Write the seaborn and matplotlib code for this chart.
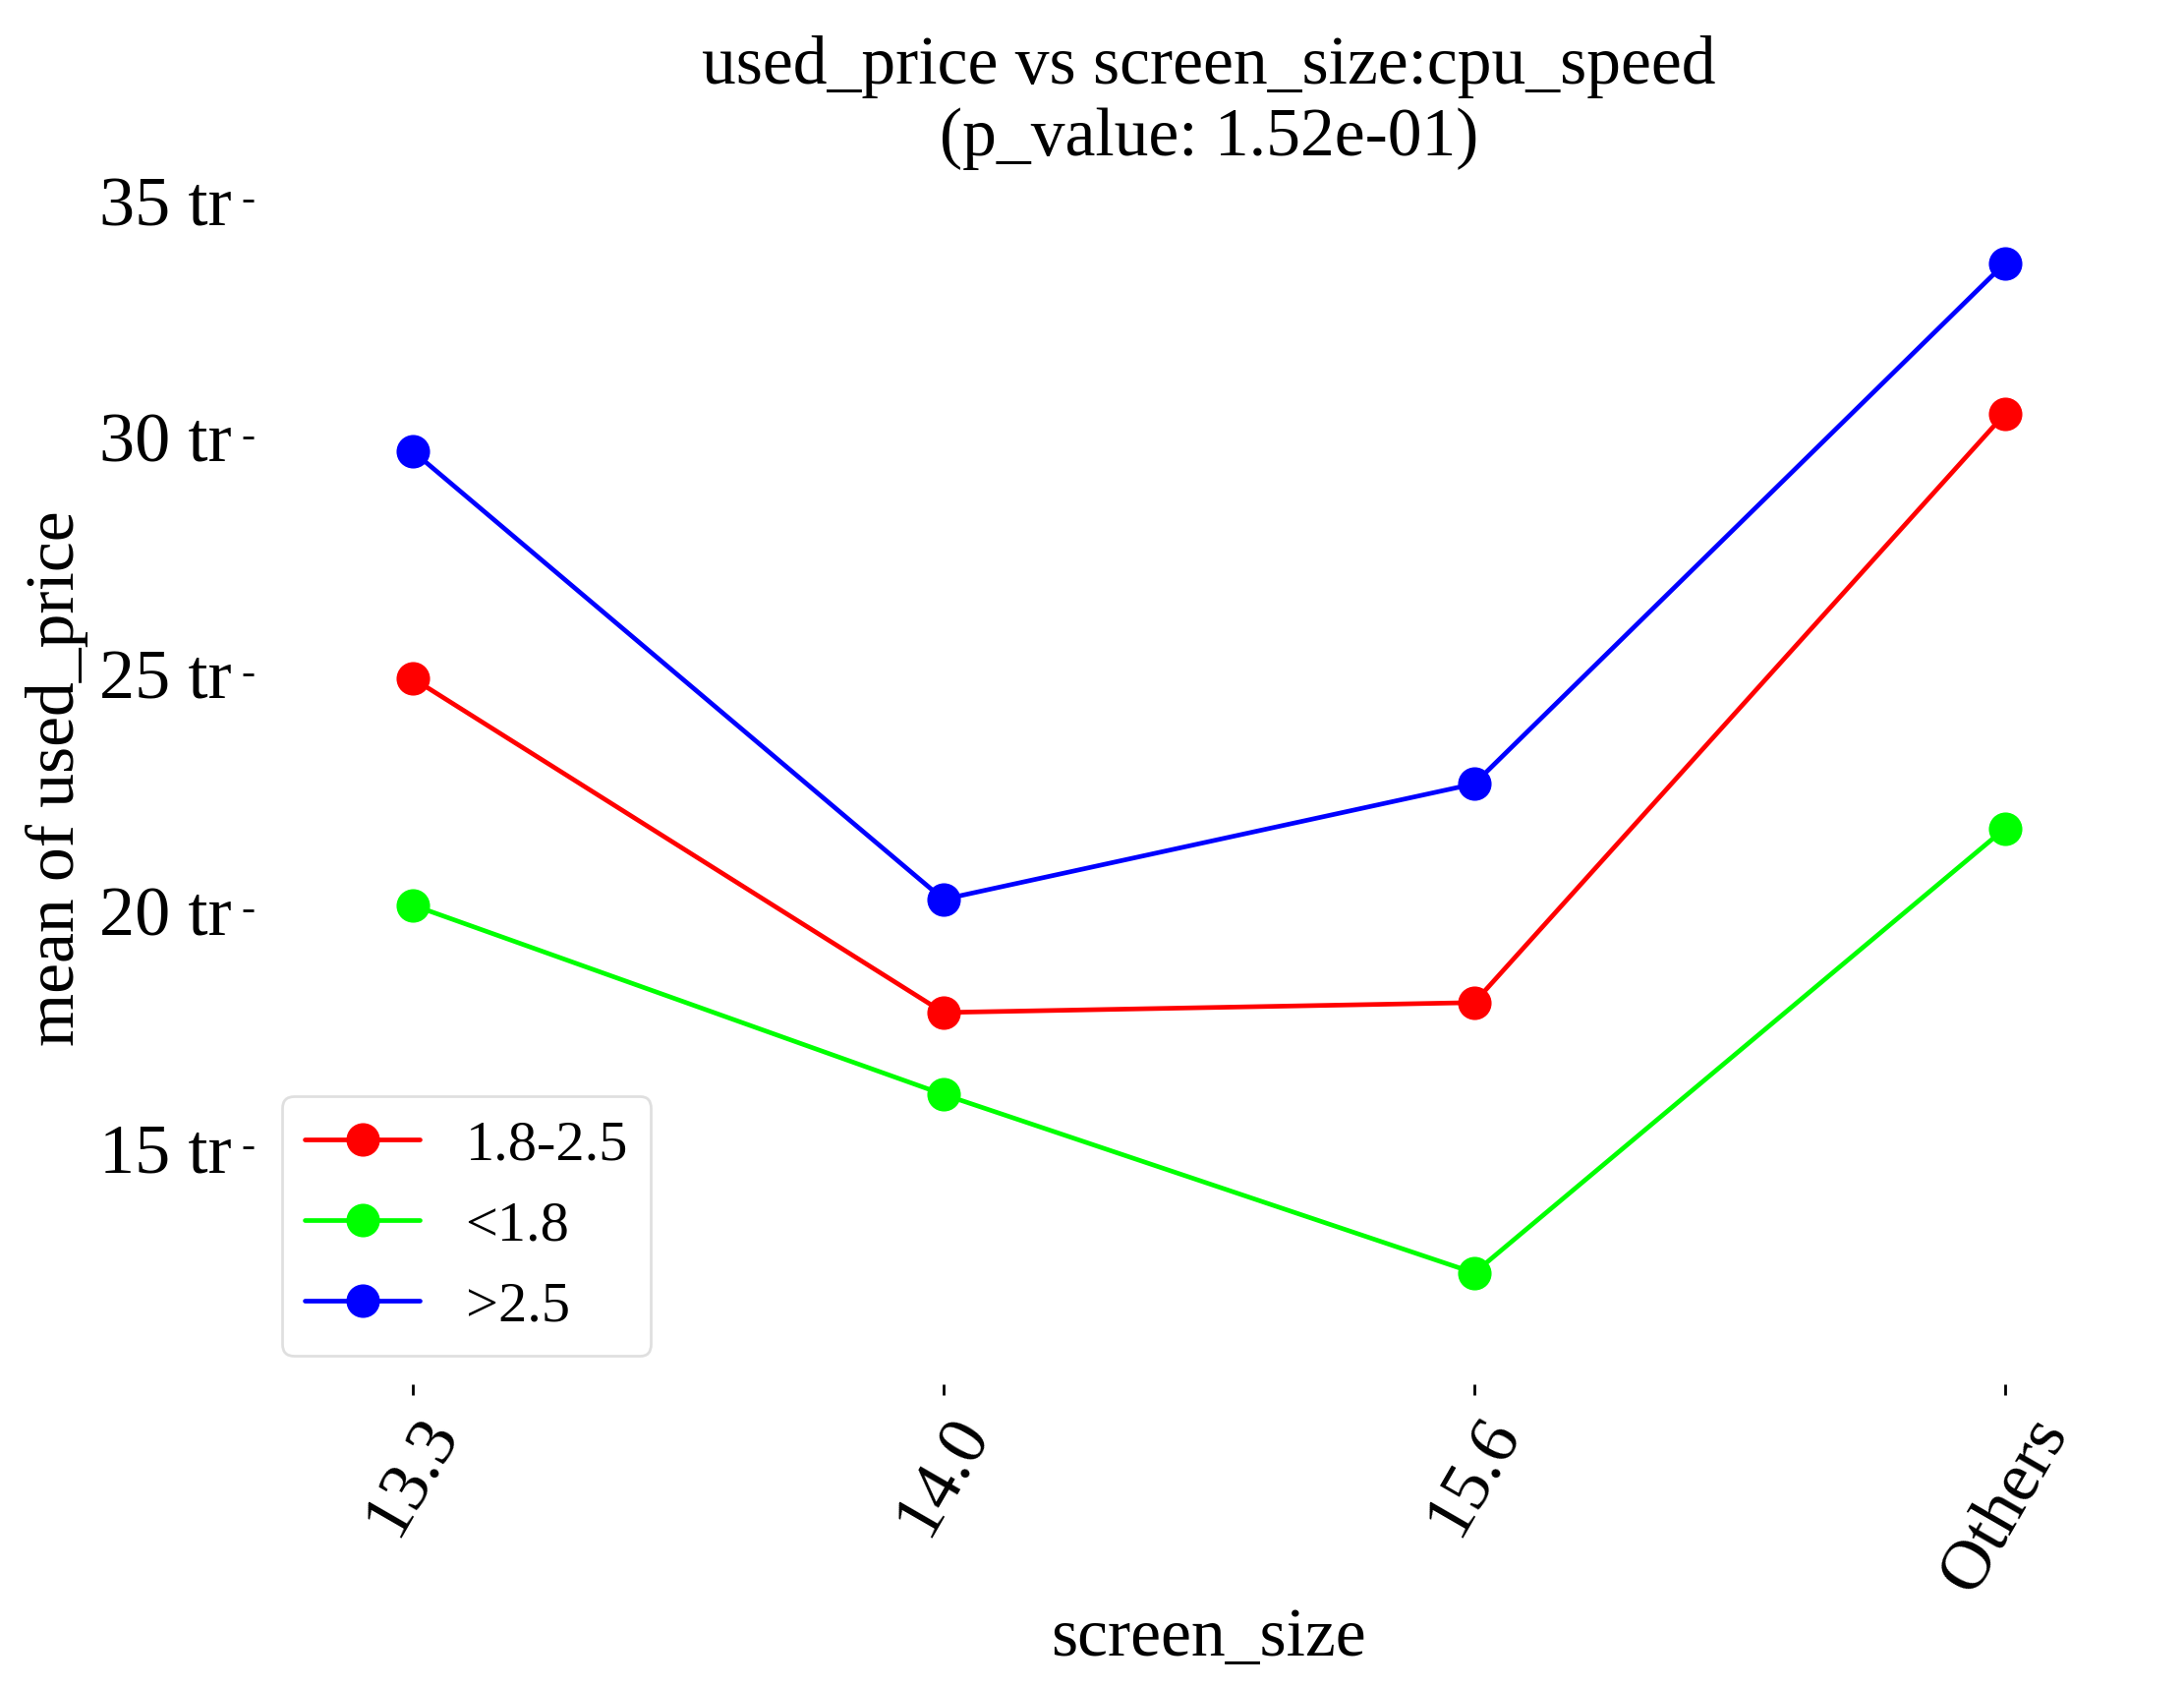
import pandas as pd
import seaborn as sns
import matplotlib.pyplot as plt
from matplotlib.ticker import FuncFormatter

# category levels and group means (millions)
screen_sizes = ["13.3", "14.0", "15.6", "Others"]
cpu_groups = ["1.8-2.5", "<1.8", ">2.5"]
mean_mid = [24.91, 17.85, 18.06, 30.50]
mean_low = [20.12, 16.12, 12.35, 21.74]
mean_high = [29.71, 20.24, 22.68, 33.68]
colors = {"1.8-2.5": "red", "<1.8": "lime", ">2.5": "blue"}


def build_df():
    rows = []
    for grp, vals in zip(cpu_groups, [mean_mid, mean_low, mean_high]):
        for size, v in zip(screen_sizes, vals):
            rows.append({"screen_size": size, "cpu_speed": grp, "used_price": v})
    return pd.DataFrame(rows)


df = build_df()

sns.set_style("ticks")
plt.rcParams["font.family"] = ["Liberation Serif", "DejaVu Serif"]
plt.rcParams["text.color"] = "black"
plt.rcParams["axes.labelcolor"] = "black"
plt.rcParams["xtick.color"] = "black"
plt.rcParams["ytick.color"] = "black"

fig, ax = plt.subplots(figsize=(11.11, 8.585), dpi=200)
fig.subplots_adjust(left=0.116, right=0.991, bottom=0.180, top=0.898)

sns.pointplot(
    data=df, x="screen_size", y="used_price", hue="cpu_speed",
    order=screen_sizes, hue_order=cpu_groups, palette=colors,
    markers="o", markersize=11, linewidth=1.7, errorbar=None, ax=ax,
)

ax.set_xlim(-0.3, 3.3)
ax.set_ylim(10, 35.6)
ax.set_yticks([15, 20, 25, 30, 35])
ax.yaxis.set_major_formatter(FuncFormatter(lambda v, p: f"{int(v)} tr"))
sns.despine(ax=ax, left=True, bottom=True)
ax.tick_params(axis="both", labelsize=26, length=4, width=1, pad=4)
plt.setp(ax.get_xticklabels(), rotation=60)

ax.set_title("used_price vs screen_size:cpu_speed\n(p_value: 1.52e-01)", fontsize=25)
ax.set_xlabel("screen_size", fontsize=25, labelpad=2)
ax.set_ylabel("mean of used_price", fontsize=25)

leg = ax.legend(loc="lower left", fontsize=21, frameon=True, title=None)
leg.get_frame().set_edgecolor("#d8d8d8")

fig.savefig("out.png", dpi=200)
